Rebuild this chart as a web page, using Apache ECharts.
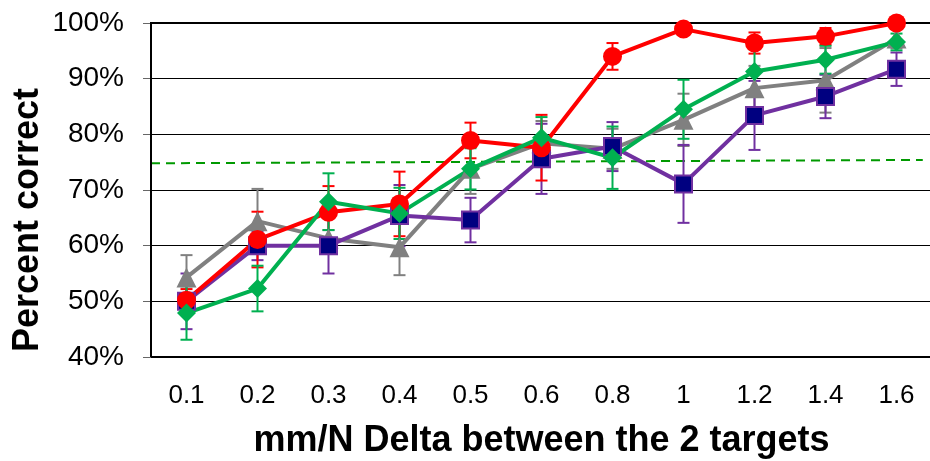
<!DOCTYPE html>
<html>
<head>
<meta charset="utf-8">
<script src="https://cdn.jsdelivr.net/npm/echarts@6/dist/echarts.min.js"></script>
<style>
  html, body { margin: 0; padding: 0; background: #fff; }
  #main { width: 930px; height: 461px; }
</style>
</head>
<body>
<div id="main"></div>
<script>
// x categories (mm/N delta)
const categories = ['0.1', '0.2', '0.3', '0.4', '0.5', '0.6', '0.8', '1', '1.2', '1.4', '1.6']
const yTicks = [40, 50, 60, 70, 80, 90, 100]

// percent correct, with +/- error
const redVals = [50.2, 61.1, 66.0, 67.5, 78.9, 77.6, 94.0, 98.9, 96.4, 97.6, 100]
const redErr = [2.0, 5.0, 4.7, 5.8, 3.2, 5.9, 2.4, 1.0, 1.9, 1.5, 1.0]
const navyVals = [50.0, 60.0, 60.0, 65.4, 64.6, 75.6, 77.8, 71.1, 83.4, 86.8, 91.7]
const navyErr = [5.0, 2.6, 5.0, 5.5, 4.0, 6.3, 4.4, 7.0, 6.2, 3.9, 3.0]
const grayVals = [54.3, 64.4, 61.3, 59.7, 73.8, 78.4, 77.4, 82.6, 88.3, 89.7, 97.2]
const grayErr = [4.0, 5.8, 1.5, 5.0, 4.5, 4.0, 3.6, 4.7, 4.0, 5.8, 1.7]
const greenVals = [47.9, 52.3, 67.9, 65.8, 73.8, 79.4, 75.8, 84.5, 91.3, 93.4, 96.6]
const greenErr = [4.8, 4.1, 5.1, 4.6, 3.7, 3.7, 5.6, 5.3, 4.0, 2.5, 1.5]

// dashed reference line ends: [offset in categories from first category, percent]
const refLine = [[-0.5, 74.8], [10.37, 75.4]]

const FONT = 'Liberation Sans'

function errData(vals, errs) {
  return vals.map((v, i) => [i, v - errs[i], v + errs[i]])
}

function errorSeries(vals, errs, color) {
  return {
    type: 'custom',
    data: errData(vals, errs),
    silent: true,
    z: 2,
    renderItem(params, api) {
      const lo = api.coord([api.value(0), api.value(1)])
      const hi = api.coord([api.value(0), api.value(2)])
      const w = 6
      const style = { stroke: color, lineWidth: 2 }
      return {
        type: 'group',
        children: [
          { type: 'line', shape: { x1: lo[0], y1: lo[1], x2: hi[0], y2: hi[1] }, style },
          { type: 'line', shape: { x1: lo[0] - w, y1: lo[1], x2: lo[0] + w, y2: lo[1] }, style },
          { type: 'line', shape: { x1: hi[0] - w, y1: hi[1], x2: hi[0] + w, y2: hi[1] }, style }
        ]
      }
    }
  }
}

function lineSeries(vals, symbol, fill, lineColor, border) {
  return {
    type: 'line',
    data: vals,
    symbol: symbol,
    symbolSize: symbol === 'rect' ? 17 : (symbol === 'triangle' ? 20 : 19),
    showAllSymbol: true,
    z: 3,
    lineStyle: { color: lineColor, width: 4 },
    itemStyle: {
      color: fill,
      borderColor: border || fill,
      borderWidth: border ? 2 : 0,
      opacity: 1
    }
  }
}

const myChart = echarts.init(document.getElementById('main'))
myChart.setOption({
  animation: false,
  backgroundColor: '#fff',
  grid: {
    left: 151,
    top: 23,
    width: 781,
    bottom: 104,
    outerBoundsMode: 'none'
  },
  xAxis: {
    type: 'category',
    data: categories,
    boundaryGap: true,
    name: 'mm/N Delta between the 2 targets',
    nameLocation: 'middle',
    nameGap: 66,
    nameTextStyle: { fontFamily: FONT, fontWeight: 'bold', fontSize: 36, color: '#000' },
    axisLine: { lineStyle: { color: '#000', width: 2 } },
    axisTick: { alignWithLabel: true, length: 6, lineStyle: { color: '#555' } },
    axisLabel: { fontFamily: FONT, fontSize: 26, color: '#000', margin: 26 },
    splitLine: { show: false }
  },
  yAxis: {
    type: 'value',
    min: yTicks[0],
    max: yTicks[yTicks.length - 1],
    interval: 10,
    axisLine: { show: true, lineStyle: { color: '#000', width: 2 } },
    axisTick: { show: true, length: 8, lineStyle: { color: '#666' } },
    axisLabel: {
      fontFamily: FONT,
      fontSize: 28,
      color: '#000',
      margin: 27,
      formatter: '{value}%'
    },
    splitLine: { lineStyle: { color: '#000', width: 1 } }
  },
  graphic: [
    {
      type: 'text',
      x: 28,
      y: 220,
      rotation: Math.PI / 2,
      style: {
        text: 'Percent correct',
        font: 'bold 36px "Liberation Sans"',
        fill: '#000',
        align: 'center',
        verticalAlign: 'middle'
      }
    }
  ],
  series: [
    {
      // dashed reference line, plus the heavier top and left borders
      type: 'custom',
      data: [refLine[0].concat(refLine[1])],
      silent: true,
      z: 1,
      renderItem(params, api) {
        const band = api.size([1, 0])[0]
        const p1 = api.coord([0, api.value(1)])
        const p2 = api.coord([0, api.value(3)])
        const rect = params.coordSys
        return {
          type: 'group',
          children: [
            {
              type: 'line',
              shape: { x1: p1[0] + api.value(0) * band, y1: p1[1], x2: p2[0] + api.value(2) * band, y2: p2[1] },
              style: { stroke: '#009900', lineWidth: 2, lineDash: [9, 6] }
            },
            {
              type: 'polyline',
              shape: { points: [[rect.x + rect.width, rect.y], [rect.x, rect.y], [rect.x, rect.y + rect.height]] },
              style: { stroke: '#000', lineWidth: 2, fill: null }
            }
          ]
        }
      }
    },
    errorSeries(grayVals, grayErr, '#808080'),
    lineSeries(grayVals, 'triangle', '#808080', '#808080'),
    errorSeries(navyVals, navyErr, '#7030A0'),
    lineSeries(navyVals, 'rect', '#000080', '#7030A0', '#7030A0'),
    errorSeries(redVals, redErr, '#FF0000'),
    lineSeries(redVals, 'circle', '#FF0000', '#FF0000'),
    errorSeries(greenVals, greenErr, '#00B050'),
    lineSeries(greenVals, 'diamond', '#00B050', '#00B050')
  ]
})
</script>
</body>
</html>
